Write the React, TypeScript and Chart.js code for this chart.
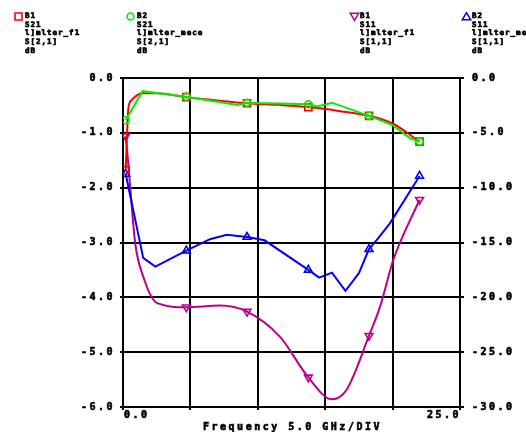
import React, { useEffect, useRef } from "react";
import { Chart, registerables } from "chart.js";

Chart.register(...registerables);

// ---- data ----
const markerFreqs = [0.2, 4.7, 9.2, 13.75, 18.25, 22.0];

// B1 S21 (model, left axis)
const s21ModelFreq = [0.2, 0.4, 0.65, 1.0, 1.5, 2.5, 4.7, 7.0, 9.2, 11.5, 13.75, 16.0, 18.25, 20.0, 22.0];
const s21ModelDb = [-1.68, -0.55, -0.4, -0.32, -0.28, -0.28, -0.35, -0.41, -0.46, -0.49, -0.53, -0.6, -0.69, -0.83, -1.16];

// B2 S21 (measured, left axis)
const s21MeasFreq = [0.2, 1.45, 4.7, 8.5, 9.2, 13.75, 14.4, 15.5, 18.25, 20.0, 21.3, 22.0];
const s21MeasDb = [-0.77, -0.24, -0.34, -0.49, -0.45, -0.48, -0.52, -0.45, -0.69, -0.86, -1.1, -1.16];

// B1 S11 (model, right axis)
const s11ModelFreq = [0.2, 0.37, 0.9, 1.5, 2.5, 4.7, 7.2, 9.2, 11.65, 13.75, 15.5, 16.6, 18.25, 19.07, 20.05, 22.0];
const s11ModelDb = [-5.3, -7.5, -15.0, -18.1, -20.5, -20.9, -20.75, -21.3, -23.6, -27.3, -29.3, -28.4, -23.5, -20.85, -16.6, -11.1];

// B2 S11 (measured, right axis)
const s11MeasFreq = [0.2, 1.5, 2.4, 4.7, 6.45, 7.7, 9.2, 10.5, 13.75, 14.55, 15.5, 16.5, 17.5, 18.25, 18.8, 19.8, 22.0];
const s11MeasDb = [-8.75, -16.4, -17.2, -15.74, -14.7, -14.3, -14.5, -14.8, -17.5, -18.2, -17.75, -19.4, -17.8, -15.6, -14.8, -13.25, -8.93];

const xGridValues = [0, 5, 10, 15, 20, 25];
const leftTicks = [0, -1, -2, -3, -4, -5, -6];
const rightTicks = [0, -5, -10, -15, -20, -25, -30];
const xTickLabels = ["0.0", "25.0"];
const xAxisTitle = "Frequency 5.0 GHz/DIV";

const legendB1S21 = ["B1", "S21", "l]mlter_f1", "S[2,1]", "dB"];
const legendB2S21 = ["B2", "S21", "l]mlter_mece", "S[2,1]", "dB"];
const legendB1S11 = ["B1", "S11", "l]mlter_f1", "S[1,1]", "dB"];
const legendB2S11 = ["B2", "S11", "l]mlter_meas", "S[1,1]", "dB"];

const RED = "#ff0000";
const GREEN = "#00ee00";
const MAGENTA = "#b8008a";
const BLUE = "#0000ff";

const toPoints = (xs: number[], ys: number[]) => xs.map((x, i) => ({ x, y: ys[i] }));
const isMarker = (x: number) => markerFreqs.some((m) => Math.abs(m - x) < 0.01);

const tickFont = { family: "'DejaVu Sans Mono'", size: 10, weight: "bold" as const };

function drawMarker(ctx: CanvasRenderingContext2D, kind: string, x: number, y: number, color: string) {
  ctx.save();
  ctx.strokeStyle = color;
  ctx.lineWidth = 1.6;
  ctx.beginPath();
  if (kind === "rect") {
    ctx.rect(x - 3.5, y - 3.5, 7, 7);
  } else if (kind === "circle") {
    ctx.arc(x, y, 3.5, 0, Math.PI * 2);
  } else if (kind === "down") {
    ctx.moveTo(x - 4.2, y - 3.2);
    ctx.lineTo(x + 4.2, y - 3.2);
    ctx.lineTo(x, y + 3.8);
    ctx.closePath();
  } else {
    ctx.moveTo(x - 4.2, y + 3.2);
    ctx.lineTo(x + 4.2, y + 3.2);
    ctx.lineTo(x, y - 3.8);
    ctx.closePath();
  }
  ctx.stroke();
  ctx.restore();
}

function boldText(ctx: CanvasRenderingContext2D, t: string, x: number, y: number, w: number) {
  ctx.lineWidth = w;
  ctx.strokeText(t, x, y);
  ctx.fillText(t, x, y);
}

const overlayPlugin = {
  id: "overlay",
  beforeDraw(chart: any) {
    chart.ctx.letterSpacing = "2.5px";
  },
  afterDraw(chart: any) {
    const ctx: CanvasRenderingContext2D = chart.ctx;
    const xs = chart.scales.x;
    const area = chart.chartArea;
    ctx.save();
    ctx.fillStyle = "#000";
    ctx.strokeStyle = "#000";
    ctx.font = "bold 10px 'DejaVu Sans Mono'";
    (ctx as any).letterSpacing = "2.5px";
    ctx.textBaseline = "middle";
    ctx.textAlign = "left";
    boldText(ctx, xTickLabels[0], xs.getPixelForValue(xGridValues[0]) + 1, area.bottom + 8, 0.6);
    ctx.textAlign = "right";
    boldText(ctx, xTickLabels[1], xs.getPixelForValue(xGridValues[xGridValues.length - 1]) + 1, area.bottom + 8, 0.6);
    ctx.textAlign = "center";
    boldText(ctx, xAxisTitle, (area.left + area.right) / 2 + 1, area.bottom + 20, 0.6);

    // legend
    const blocks = [
      { lines: legendB1S21, kind: "rect", color: RED, mx: 18.5, tx: 25 },
      { lines: legendB2S21, kind: "circle", color: GREEN, mx: 130.5, tx: 137 },
      { lines: legendB1S11, kind: "down", color: MAGENTA, mx: 354.5, tx: 360 },
      { lines: legendB2S11, kind: "up", color: BLUE, mx: 466.5, tx: 472 },
    ];
    ctx.font = "bold 7.5px 'DejaVu Sans Mono'";
    (ctx as any).letterSpacing = "1px";
    ctx.textAlign = "left";
    for (const b of blocks) {
      drawMarker(ctx, b.kind, b.mx, 16.5, b.color);
      ctx.fillStyle = "#000";
      ctx.strokeStyle = "#000";
      b.lines.forEach((t, i) => {
        boldText(ctx, t, b.tx, 16.3 + i * 8.6, 0.7);
      });
    }
    ctx.restore();
  },
};

export default function App() {
  const canvasRef = useRef<HTMLCanvasElement | null>(null);

  useEffect(() => {
    if (!canvasRef.current) return;
    const radius = (r: number) => (c: any) => (c.raw && isMarker(c.raw.x) ? r : 0);
    const chart = new Chart(canvasRef.current, {
      type: "line",
      data: {
        datasets: [
          {
            label: "B2 S21",
            data: toPoints(s21MeasFreq, s21MeasDb),
            borderColor: GREEN,
            borderWidth: 2,
            tension: 0,
            yAxisID: "y",
            pointStyle: "circle",
            pointRadius: radius(3.5),
            pointBorderColor: GREEN,
            pointBackgroundColor: "rgba(0,0,0,0)",
            pointBorderWidth: 1.6,
            order: 0,
          },
          {
            label: "B1 S21",
            data: toPoints(s21ModelFreq, s21ModelDb),
            borderColor: RED,
            borderWidth: 2,
            cubicInterpolationMode: "monotone",
            yAxisID: "y",
            pointStyle: "rect",
            pointRadius: radius(5),
            pointBorderColor: RED,
            pointBackgroundColor: "rgba(0,0,0,0)",
            pointBorderWidth: 1.6,
            order: 1,
          },
          {
            label: "B2 S11",
            data: toPoints(s11MeasFreq, s11MeasDb),
            borderColor: BLUE,
            borderWidth: 2,
            tension: 0,
            yAxisID: "y2",
            pointStyle: "triangle",
            pointRadius: radius(4.5),
            pointBorderColor: BLUE,
            pointBackgroundColor: "rgba(0,0,0,0)",
            pointBorderWidth: 1.6,
            order: 2,
          },
          {
            label: "B1 S11",
            data: toPoints(s11ModelFreq, s11ModelDb),
            borderColor: MAGENTA,
            borderWidth: 2,
            cubicInterpolationMode: "monotone",
            yAxisID: "y2",
            pointStyle: "triangle",
            pointRotation: 180,
            pointRadius: radius(4.5),
            pointBorderColor: MAGENTA,
            pointBackgroundColor: "rgba(0,0,0,0)",
            pointBorderWidth: 1.6,
            order: 3,
          },
        ],
      },
      options: {
        animation: false,
        responsive: false,
        devicePixelRatio: 1,
        layout: { padding: { top: 78, left: 0, right: 0, bottom: 0 } },
        plugins: { legend: { display: false }, tooltip: { enabled: false } },
        scales: {
          x: {
            type: "linear",
            min: 0,
            max: 25,
            afterBuildTicks: (s: any) => {
              s.ticks = xGridValues.map((v) => ({ value: v }));
            },
            ticks: { display: false },
            grid: { color: "#000", lineWidth: 2, tickLength: 3 },
            border: { color: "#000", width: 2 },
            afterFit: (s: any) => {
              s.height = 25;
            },
          },
          y: {
            type: "linear",
            position: "left",
            min: -6,
            max: 0,
            afterBuildTicks: (s: any) => {
              s.ticks = leftTicks.map((v) => ({ value: v }));
            },
            ticks: {
              autoSkip: false,
              color: "#000",
              font: tickFont,
              padding: 5,
              textStrokeColor: "#000",
              textStrokeWidth: 0.6,
              callback: (v: any) => Number(v).toFixed(1),
            },
            grid: { color: "#000", lineWidth: 2, tickLength: 3 },
            border: { color: "#000", width: 2 },
            afterFit: (s: any) => {
              s.width = 123;
            },
          },
          y2: {
            type: "linear",
            position: "right",
            min: -30,
            max: 0,
            afterBuildTicks: (s: any) => {
              s.ticks = rightTicks.map((v) => ({ value: v }));
            },
            ticks: {
              autoSkip: false,
              color: "#000",
              font: tickFont,
              padding: 8,
              textStrokeColor: "#000",
              textStrokeWidth: 0.6,
              callback: (v: any) => Number(v).toFixed(1),
            },
            grid: { color: "#000", lineWidth: 2, tickLength: 4, drawOnChartArea: false },
            border: { color: "#000", width: 2 },
            afterFit: (s: any) => {
              s.width = 66;
            },
          },
        },
      } as any,
      plugins: [overlayPlugin],
    });
    return () => chart.destroy();
  }, []);

  return (
    <div style={{ position: "absolute", left: 0, top: 0, width: 526, height: 432, background: "#fff" }}>
      <canvas ref={canvasRef} width={526} height={432} style={{ display: "block" }} />
    </div>
  );
}
